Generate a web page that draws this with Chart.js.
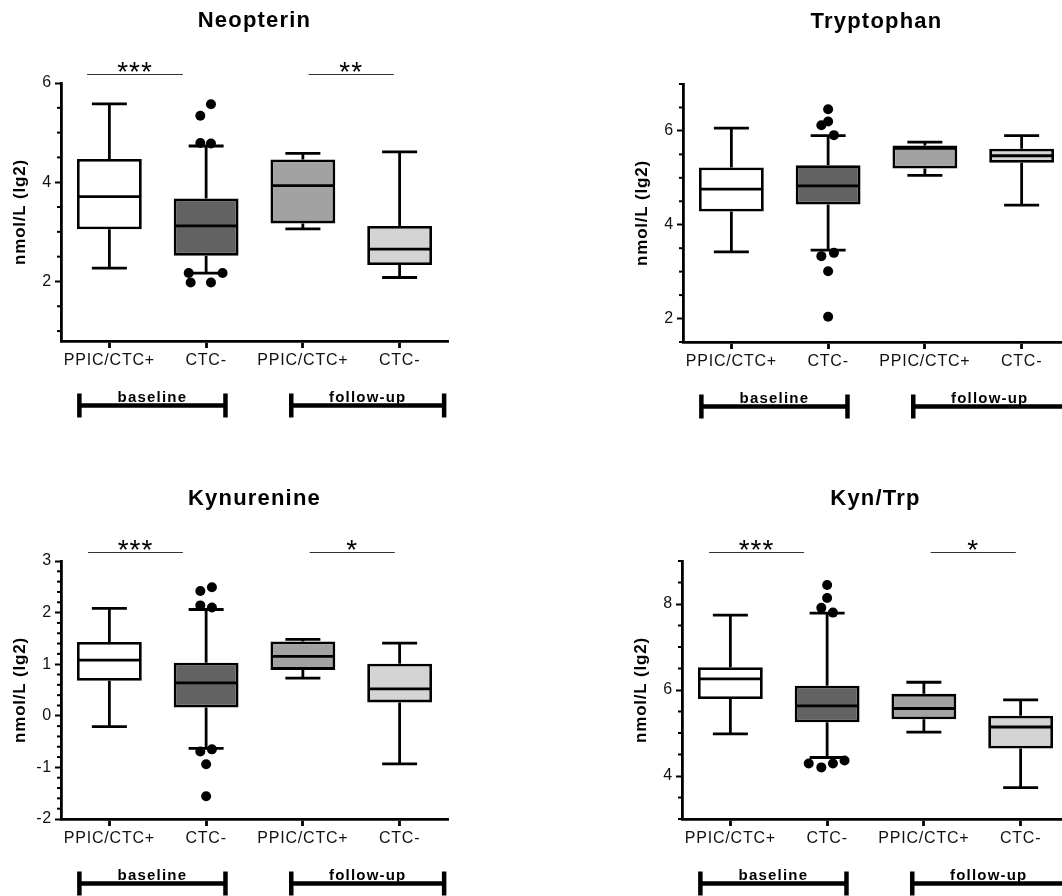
<!DOCTYPE html>
<html>
<head>
<meta charset="utf-8">
<script src="https://cdn.jsdelivr.net/npm/chart.js@4.4.1/dist/chart.umd.min.js"></script>
<style>
  html, body { margin: 0; padding: 0; background: #fff; }
  body { width: 1062px; height: 896px; overflow: hidden; position: relative; }
  canvas { position: absolute; }
</style>
</head>
<body>
<canvas id="neo" width="470" height="440" style="left:0;top:0"></canvas>
<canvas id="trp" width="470" height="440" style="left:622px;top:1px"></canvas>
<canvas id="kyn" width="470" height="440" style="left:0;top:478px"></canvas>
<canvas id="ratio" width="470" height="440" style="left:621px;top:478px"></canvas>
<script>
(function () {
  'use strict';

  // groups on the x axis, same for every panel
  var groups = ['PPIC/CTC+', 'CTC-', 'PPIC/CTC+', 'CTC-'];
  var boxColors = ['#ffffff', '#626262', '#a2a2a2', '#d4d4d4'];
  var periods = [
    { text: 'baseline', from: 0.69, to: 2.2 },
    { text: 'follow-up', from: 2.88, to: 4.46 },
  ];

  // Neopterin
  var neoMin = [2.27, 2.17, 3.06, 2.08];
  var neoQ1 = [3.05, 2.52, 3.17, 2.33];
  var neoMed = [3.71, 3.12, 3.93, 2.65];
  var neoQ3 = [4.47, 3.67, 4.46, 3.12];
  var neoMax = [5.58, 4.73, 4.58, 4.61];
  var neoOut = [[2.05, 5.57], [1.94, 5.34], [1.94, 4.79], [2.05, 4.78],
    [1.82, 2.17], [2.17, 2.17], [1.84, 1.98], [2.05, 1.98]];
  var neoSig = [{ from: 0.77, to: 1.76, text: '***' }, { from: 3.06, to: 3.94, text: '**' }];

  // Tryptophan
  var trpMin = [3.42, 3.46, 5.05, 4.42];
  var trpQ1 = [4.28, 4.43, 5.20, 5.32];
  var trpMed = [4.76, 4.83, 5.63, 5.47];
  var trpQ3 = [5.22, 5.27, 5.69, 5.62];
  var trpMax = [6.06, 5.90, 5.76, 5.90];
  var trpOut = [[2, 6.46], [2, 6.20], [1.93, 6.12], [2.06, 5.91],
    [1.93, 3.33], [2.06, 3.40], [2, 3.01], [2, 2.04]];
  var trpSig = [];

  // Kynurenine
  var kynMin = [-0.21, -0.63, 0.73, -0.93];
  var kynQ1 = [0.68, 0.16, 0.89, 0.26];
  var kynMed = [1.08, 0.64, 1.15, 0.52];
  var kynQ3 = [1.43, 1.03, 1.44, 1.01];
  var kynMax = [2.08, 2.06, 1.48, 1.41];
  var kynOut = [[2.06, 2.49], [1.94, 2.42], [1.94, 2.14], [2.06, 2.10],
    [1.94, -0.69], [2.06, -0.65], [2, -0.94], [2, -1.56]];
  var kynSig = [{ from: 0.78, to: 1.76, text: '***' }, { from: 3.07, to: 3.95, text: '*' }];

  // Kyn/Trp
  var ratioMin = [4.98, 4.43, 5.02, 3.73];
  var ratioQ1 = [5.79, 5.25, 5.32, 4.64];
  var ratioMed = [6.26, 5.63, 5.57, 5.14];
  var ratioQ3 = [6.53, 6.10, 5.91, 5.40];
  var ratioMax = [7.74, 7.79, 6.18, 5.77];
  var ratioOut = [[2, 8.44], [2, 8.14], [1.94, 7.91], [2.06, 7.80],
    [1.81, 4.29], [1.94, 4.20], [2.06, 4.29], [2.18, 4.36]];
  var ratioSig = [{ from: 0.78, to: 1.76, text: '***' }, { from: 3.07, to: 3.95, text: '*' }];

  var FONT = "'Liberation Sans', Arial, sans-serif";
  var LW = 2.8;
  Chart.defaults.font.family = FONT;
  Chart.defaults.color = '#111';

  function nearMultiple(v, step) {
    var r = v / step;
    return Math.abs(r - Math.round(r)) < 1e-6;
  }

  function panelPlugin(p) {
    return {
      id: 'panelParts',
      beforeLayout: function (chart) { chart.ctx.letterSpacing = '0.8px'; },
      beforeDraw: function (chart) { chart.ctx.letterSpacing = '0.8px'; },
      // whiskers behind the boxes
      beforeDatasetsDraw: function (chart) {
        var ctx = chart.ctx, ys = chart.scales.y;
        var bars = chart.getDatasetMeta(0).data;
        ctx.save();
        ctx.strokeStyle = '#000';
        ctx.lineWidth = LW;
        bars.forEach(function (bar, i) {
          var cap = bar.width * 0.27;
          var yMax = ys.getPixelForValue(p.max[i]);
          var yMin = ys.getPixelForValue(p.min[i]);
          var yQ1 = ys.getPixelForValue(p.q1[i]);
          var yQ3 = ys.getPixelForValue(p.q3[i]);
          ctx.beginPath();
          ctx.moveTo(bar.x, yQ3); ctx.lineTo(bar.x, yMax);
          ctx.moveTo(bar.x - cap, yMax); ctx.lineTo(bar.x + cap, yMax);
          ctx.moveTo(bar.x, yQ1); ctx.lineTo(bar.x, yMin);
          ctx.moveTo(bar.x - cap, yMin); ctx.lineTo(bar.x + cap, yMin);
          ctx.stroke();
        });
        ctx.restore();
      },
      afterDatasetsDraw: function (chart) {
        var ctx = chart.ctx, ys = chart.scales.y;
        var bars = chart.getDatasetMeta(0).data;
        ctx.save();
        ctx.strokeStyle = '#000';
        ctx.lineWidth = LW;
        bars.forEach(function (bar, i) {
          var y = ys.getPixelForValue(p.med[i]);
          var half = bar.width / 2 - 1;
          ctx.beginPath();
          ctx.moveTo(bar.x - half, y); ctx.lineTo(bar.x + half, y);
          ctx.stroke();
        });
        ctx.restore();
      },
      afterDraw: function (chart) {
        var ctx = chart.ctx, xs = chart.scales.x, ys = chart.scales.y, area = chart.chartArea;
        ctx.save();

        // short minor ticks on the y axis
        ctx.strokeStyle = '#000';
        ctx.lineWidth = 2;
        ys.ticks.forEach(function (t) {
          if (nearMultiple(t.value, p.major)) return;
          var y = ys.getPixelForValue(t.value);
          ctx.beginPath();
          ctx.moveTo(area.left - 4, y); ctx.lineTo(area.left, y);
          ctx.stroke();
        });

        ctx.fillStyle = '#000';
        ctx.textAlign = 'center';
        ctx.textBaseline = 'alphabetic';

        // title
        ctx.letterSpacing = '1.2px';
        ctx.font = 'bold 22px ' + FONT;
        ctx.fillText(p.title, (area.left + area.right) / 2, area.top - 56);

        // significance bars
        ctx.strokeStyle = '#333';
        ctx.lineWidth = 1;
        ctx.font = '28px ' + FONT;
        ctx.letterSpacing = '1px';
        p.sig.forEach(function (s) {
          var x0 = xs.getPixelForValue(s.from), x1 = xs.getPixelForValue(s.to);
          var y = Math.round(area.top - 9) + 0.5;
          ctx.beginPath();
          ctx.moveTo(x0, y); ctx.lineTo(x1, y);
          ctx.stroke();
          ctx.fillText(s.text, (x0 + x1) / 2, area.top - 2);
        });

        // baseline / follow-up brackets
        ctx.strokeStyle = '#000';
        ctx.lineWidth = 4.5;
        ctx.font = 'bold 15px ' + FONT;
        ctx.letterSpacing = '1.2px';
        periods.forEach(function (g) {
          var x0 = xs.getPixelForValue(g.from), x1 = xs.getPixelForValue(g.to);
          var y = area.bottom + 64.5;
          ctx.beginPath();
          ctx.moveTo(x0, y); ctx.lineTo(x1, y);
          ctx.moveTo(x0, y - 12); ctx.lineTo(x0, y + 12);
          ctx.moveTo(x1, y - 12); ctx.lineTo(x1, y + 12);
          ctx.stroke();
          ctx.fillText(g.text, (x0 + x1) / 2, y - 4);
        });
        ctx.restore();
      },
    };
  }

  function makeChart(id, p) {
    var canvas = document.getElementById(id);
    var boxes = groups.map(function (g, i) {
      return { x: i + 1, y: [p.q1[i], p.q3[i]] };
    });
    var points = p.out.map(function (o) { return { x: o[0], y: o[1] }; });

    new Chart(canvas.getContext('2d'), {
      type: 'bar',
      data: {
        datasets: [
          {
            type: 'bar',
            data: boxes,
            backgroundColor: boxColors,
            borderColor: '#000',
            borderWidth: LW,
            borderSkipped: false,
            barPercentage: 0.67,
            categoryPercentage: 1,
          },
          {
            type: 'scatter',
            data: points,
            pointRadius: 5,
            pointHoverRadius: 5,
            pointBackgroundColor: '#000',
            pointBorderWidth: 0,
            showLine: false,
          },
        ],
      },
      options: {
        responsive: false,
        animation: false,
        devicePixelRatio: 1,
        layout: { padding: { left: 0, top: 83, right: 22, bottom: 59 } },
        plugins: {
          legend: { display: false },
          tooltip: { enabled: false },
        },
        scales: {
          x: {
            type: 'linear',
            min: 0.5,
            max: 4.5,
            offset: false,
            afterBuildTicks: function (s) {
              s.ticks = groups.map(function (g, i) { return { value: i + 1 }; });
            },
            afterFit: function (s) { s.height = 40; },
            border: { display: true, color: '#000', width: LW },
            grid: {
              display: true,
              offset: false,
              drawOnChartArea: false,
              drawTicks: true,
              tickLength: 7,
              tickColor: '#000',
              tickWidth: LW,
            },
            ticks: {
              autoSkip: false,
              maxRotation: 0,
              padding: 3,
              color: '#111',
              font: { size: 16 },
              callback: function (v) { return groups[Math.round(v) - 1] || ''; },
            },
          },
          y: {
            min: p.yMin,
            max: p.yMax,
            afterBuildTicks: function (s) {
              var t = [];
              var start = Math.ceil(p.yMin / p.minor - 1e-6);
              var end = Math.floor(p.yMax / p.minor + 1e-6);
              for (var k = start; k <= end; k++) t.push({ value: Math.round(k * p.minor * 1000) / 1000 });
              s.ticks = t;
            },
            afterFit: function (s) { s.width = 61; },
            border: { display: true, color: '#000', width: LW },
            grid: {
              display: true,
              drawOnChartArea: false,
              drawTicks: true,
              tickLength: 6,
              tickWidth: 2,
              tickColor: function (c) {
                return c.tick && nearMultiple(c.tick.value, p.major) ? '#000' : 'rgba(0,0,0,0)';
              },
            },
            ticks: {
              autoSkip: false,
              padding: 3,
              color: '#111',
              font: { size: 16 },
              callback: function (v) { return nearMultiple(v, p.major) ? String(Math.round(v)) : ''; },
            },
            title: {
              display: true,
              text: 'nmol/L (lg2)',
              color: '#000',
              font: { size: 17, weight: 'bold' },
              padding: { top: 10, bottom: 0 },
            },
          },
        },
      },
      plugins: [panelPlugin(p)],
    });
  }

  document.addEventListener('DOMContentLoaded', function () {
    makeChart('neo', {
      title: 'Neopterin', yMin: 0.8, yMax: 6, major: 2, minor: 0.5,
      min: neoMin, q1: neoQ1, med: neoMed, q3: neoQ3, max: neoMax, out: neoOut, sig: neoSig,
    });
    makeChart('trp', {
      title: 'Tryptophan', yMin: 1.5, yMax: 7, major: 2, minor: 0.5,
      min: trpMin, q1: trpQ1, med: trpMed, q3: trpQ3, max: trpMax, out: trpOut, sig: trpSig,
    });
    makeChart('kyn', {
      title: 'Kynurenine', yMin: -2, yMax: 3, major: 1, minor: 0.2,
      min: kynMin, q1: kynQ1, med: kynMed, q3: kynQ3, max: kynMax, out: kynOut, sig: kynSig,
    });
    makeChart('ratio', {
      title: 'Kyn/Trp', yMin: 3, yMax: 9, major: 2, minor: 0.5,
      min: ratioMin, q1: ratioQ1, med: ratioMed, q3: ratioQ3, max: ratioMax, out: ratioOut, sig: ratioSig,
    });
  });
})();
</script>
</body>
</html>
